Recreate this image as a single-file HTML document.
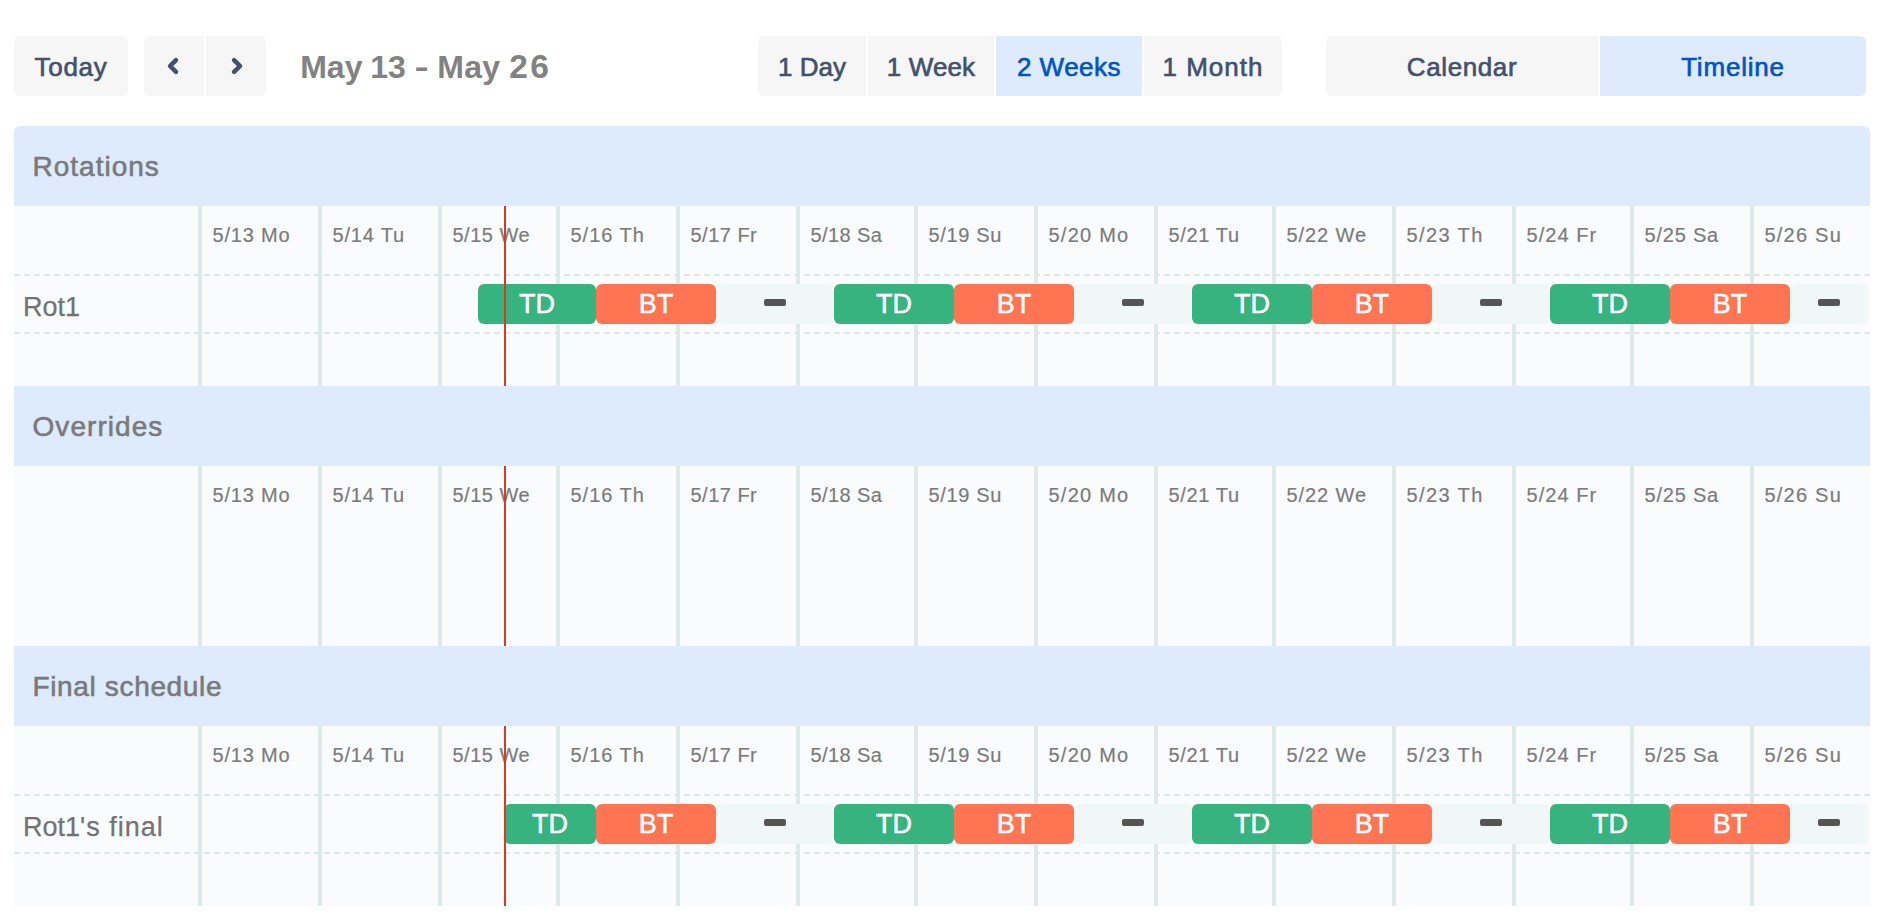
<!DOCTYPE html><html><head><meta charset="utf-8"><title>Schedule</title><style>
html,body{margin:0;padding:0;background:#fff;}
body{width:1892px;height:914px;overflow:hidden;position:relative;font-family:"Liberation Sans",sans-serif;}
.a{position:absolute;}
.btn{position:absolute;top:36px;height:60px;background:#f6f6f6;color:#42526e;font-size:26px;-webkit-text-stroke:0.65px #42526e;line-height:62px;text-align:center;white-space:nowrap;}
.btn.sel{background:#deebff;color:#0052cc;-webkit-text-stroke:0.65px #0052cc;}
.titlewrap{position:absolute;left:0;top:0;width:0;height:0;}
.title{display:block;position:absolute;left:300px;top:36.5px;height:60px;line-height:61px;font-size:32px;font-weight:bold;color:#828282;white-space:nowrap;}
.band{position:absolute;left:14px;width:1856px;height:80px;background:#deebff;}
.band span{position:absolute;left:18.5px;top:0;line-height:82px;font-size:28px;-webkit-text-stroke:0.6px #7a7a7a;color:#7a7a7a;white-space:nowrap;}
.grid{position:absolute;left:14px;width:1856px;background:#fafbfc;}
.vl{position:absolute;width:4px;background:#dfe9e9;}
.hl{position:absolute;left:14px;width:1856px;height:2px;background:repeating-linear-gradient(to right,#dce9e8 0,#dce9e8 6px,rgba(220,233,232,0) 6px,rgba(220,233,232,0) 10px);}
.dl{position:absolute;font-size:20px;-webkit-text-stroke:0.2px #7b7b7b;letter-spacing:0.9px;color:#7b7b7b;white-space:nowrap;line-height:24px;}
.rl{position:absolute;left:23px;font-size:27px;-webkit-text-stroke:0.25px #737373;color:#737373;white-space:nowrap;line-height:40px;}
.bar{position:absolute;height:40px;border-radius:6px;color:#fff;-webkit-text-stroke:0.55px #fff;font-size:27px;line-height:40px;text-align:center;white-space:nowrap;}
.td{background:#36b37e;}
.bt{background:#ff7452;}
.no{background:#f1f6f6;color:#555;}
.dash{display:block;position:absolute;left:50%;margin-left:-11.25px;top:15px;width:22.5px;height:7px;border-radius:2px;overflow:hidden;color:#555;-webkit-text-stroke:0;}
.dash b{display:block;position:absolute;left:-8.55px;top:-66.1px;font-weight:normal;font-size:120px;line-height:120px;}
.now{position:absolute;width:2px;background:#d73b22;}
</style></head><body>
<div class="btn" style="left:14px;width:114px;border-radius:6px;letter-spacing:0.7px;">Today</div>
<div class="btn" style="left:144px;width:60px;border-radius:6px 0 0 6px;"><svg style="position:absolute;left:0;top:0;display:block" width="60" height="60" viewBox="0 0 60 60"><path d="M32 24.05 L26.05 30 L32 35.95" fill="none" stroke="#42526e" stroke-width="4.5" stroke-linecap="round" stroke-linejoin="round"/></svg></div>
<div class="btn" style="left:206px;width:60px;border-radius:0 6px 6px 0;"><svg style="position:absolute;left:0;top:0;display:block" width="60" height="60" viewBox="0 0 60 60"><path d="M28.1 24.05 L34.05 30 L28.1 35.95" fill="none" stroke="#42526e" stroke-width="4.5" stroke-linecap="round" stroke-linejoin="round"/></svg></div>
<div class="titlewrap"><span class="title" style="left:300.2px;word-spacing:-1.2px;">May 13</span> <span class="title" style="left:414.3px;top:34.9px;font-size:44px;font-weight:normal;">-</span> <span class="title" style="left:437.2px;top:36px;letter-spacing:0.3px;word-spacing:-0.2px;">May <span style="letter-spacing:2.2px;font-size:33.5px">26</span></span></div>
<div class="btn" style="left:758px;width:108px;border-radius:6px 0 0 6px;letter-spacing:0px;">1 Day</div>
<div class="btn" style="left:868px;width:126px;letter-spacing:0.1px;">1 Week</div>
<div class="btn sel" style="left:996px;width:146px;letter-spacing:0.5px;">2 Weeks</div>
<div class="btn" style="left:1144px;width:138px;border-radius:0 6px 6px 0;letter-spacing:1.0px;">1 Month</div>
<div class="btn" style="left:1326px;width:272px;border-radius:6px 0 0 6px;letter-spacing:0.6px;">Calendar</div>
<div class="btn sel" style="left:1600px;width:266px;border-radius:0 6px 6px 0;letter-spacing:0.8px;">Timeline</div>
<div class="band" style="top:126px;border-radius:6px 6px 0 0;"><span style="letter-spacing:1.0px">Rotations</span></div>
<div class="grid" style="top:206px;height:180px;"></div>
<div class="vl" style="left:198.00px;top:206px;height:180px;"></div>
<div class="dl" style="left:212.50px;top:223px;letter-spacing:0.82px;">5/13 Mo</div>
<div class="vl" style="left:318.00px;top:206px;height:180px;"></div>
<div class="dl" style="left:332.50px;top:223px;letter-spacing:0.82px;">5/14 Tu</div>
<div class="vl" style="left:438.00px;top:206px;height:180px;"></div>
<div class="dl" style="left:452.50px;top:223px;letter-spacing:0.48px;">5/15 We</div>
<div class="vl" style="left:556.00px;top:206px;height:180px;"></div>
<div class="dl" style="left:570.50px;top:223px;letter-spacing:0.98px;">5/16 Th</div>
<div class="vl" style="left:676.00px;top:206px;height:180px;"></div>
<div class="dl" style="left:690.50px;top:223px;letter-spacing:0.48px;">5/17 Fr</div>
<div class="vl" style="left:796.00px;top:206px;height:180px;"></div>
<div class="dl" style="left:810.50px;top:223px;letter-spacing:0.40px;">5/18 Sa</div>
<div class="vl" style="left:914.00px;top:206px;height:180px;"></div>
<div class="dl" style="left:928.50px;top:223px;letter-spacing:0.65px;">5/19 Su</div>
<div class="vl" style="left:1034.00px;top:206px;height:180px;"></div>
<div class="dl" style="left:1048.50px;top:223px;letter-spacing:1.23px;">5/20 Mo</div>
<div class="vl" style="left:1154.00px;top:206px;height:180px;"></div>
<div class="dl" style="left:1168.50px;top:223px;letter-spacing:0.65px;">5/21 Tu</div>
<div class="vl" style="left:1272.00px;top:206px;height:180px;"></div>
<div class="dl" style="left:1286.50px;top:223px;letter-spacing:0.90px;">5/22 We</div>
<div class="vl" style="left:1392.00px;top:206px;height:180px;"></div>
<div class="dl" style="left:1406.50px;top:223px;letter-spacing:1.40px;">5/23 Th</div>
<div class="vl" style="left:1512.00px;top:206px;height:180px;"></div>
<div class="dl" style="left:1526.50px;top:223px;letter-spacing:1.07px;">5/24 Fr</div>
<div class="vl" style="left:1630.00px;top:206px;height:180px;"></div>
<div class="dl" style="left:1644.50px;top:223px;letter-spacing:0.78px;">5/25 Sa</div>
<div class="vl" style="left:1750.00px;top:206px;height:180px;"></div>
<div class="dl" style="left:1764.50px;top:223px;letter-spacing:1.22px;">5/26 Su</div>
<div class="hl" style="top:274px;"></div>
<div class="hl" style="top:332px;"></div>
<div class="rl" style="top:286.5px;">Rot1</div>
<div class="bar td" style="left:478.0px;top:284px;width:118.0px;">TD</div>
<div class="bar bt" style="left:596.0px;top:284px;width:120.0px;">BT</div>
<div class="bar no" style="left:716.0px;top:284px;width:118.0px;"><span class="dash"><b>-</b></span></div>
<div class="bar td" style="left:834.0px;top:284px;width:120.0px;">TD</div>
<div class="bar bt" style="left:954.0px;top:284px;width:120.0px;">BT</div>
<div class="bar no" style="left:1074.0px;top:284px;width:118.0px;"><span class="dash"><b>-</b></span></div>
<div class="bar td" style="left:1192.0px;top:284px;width:120.0px;">TD</div>
<div class="bar bt" style="left:1312.0px;top:284px;width:120.0px;">BT</div>
<div class="bar no" style="left:1432.0px;top:284px;width:118.0px;"><span class="dash"><b>-</b></span></div>
<div class="bar td" style="left:1550.0px;top:284px;width:120.0px;">TD</div>
<div class="bar bt" style="left:1670.0px;top:284px;width:120.0px;">BT</div>
<div class="bar no" style="left:1790.0px;top:284px;width:78.0px;"><span class="dash"><b>-</b></span></div>
<div class="band" style="top:386px;"><span style="letter-spacing:1.05px">Overrides</span></div>
<div class="grid" style="top:466px;height:180px;"></div>
<div class="vl" style="left:198.00px;top:466px;height:180px;"></div>
<div class="dl" style="left:212.50px;top:483px;letter-spacing:0.82px;">5/13 Mo</div>
<div class="vl" style="left:318.00px;top:466px;height:180px;"></div>
<div class="dl" style="left:332.50px;top:483px;letter-spacing:0.82px;">5/14 Tu</div>
<div class="vl" style="left:438.00px;top:466px;height:180px;"></div>
<div class="dl" style="left:452.50px;top:483px;letter-spacing:0.48px;">5/15 We</div>
<div class="vl" style="left:556.00px;top:466px;height:180px;"></div>
<div class="dl" style="left:570.50px;top:483px;letter-spacing:0.98px;">5/16 Th</div>
<div class="vl" style="left:676.00px;top:466px;height:180px;"></div>
<div class="dl" style="left:690.50px;top:483px;letter-spacing:0.48px;">5/17 Fr</div>
<div class="vl" style="left:796.00px;top:466px;height:180px;"></div>
<div class="dl" style="left:810.50px;top:483px;letter-spacing:0.40px;">5/18 Sa</div>
<div class="vl" style="left:914.00px;top:466px;height:180px;"></div>
<div class="dl" style="left:928.50px;top:483px;letter-spacing:0.65px;">5/19 Su</div>
<div class="vl" style="left:1034.00px;top:466px;height:180px;"></div>
<div class="dl" style="left:1048.50px;top:483px;letter-spacing:1.23px;">5/20 Mo</div>
<div class="vl" style="left:1154.00px;top:466px;height:180px;"></div>
<div class="dl" style="left:1168.50px;top:483px;letter-spacing:0.65px;">5/21 Tu</div>
<div class="vl" style="left:1272.00px;top:466px;height:180px;"></div>
<div class="dl" style="left:1286.50px;top:483px;letter-spacing:0.90px;">5/22 We</div>
<div class="vl" style="left:1392.00px;top:466px;height:180px;"></div>
<div class="dl" style="left:1406.50px;top:483px;letter-spacing:1.40px;">5/23 Th</div>
<div class="vl" style="left:1512.00px;top:466px;height:180px;"></div>
<div class="dl" style="left:1526.50px;top:483px;letter-spacing:1.07px;">5/24 Fr</div>
<div class="vl" style="left:1630.00px;top:466px;height:180px;"></div>
<div class="dl" style="left:1644.50px;top:483px;letter-spacing:0.78px;">5/25 Sa</div>
<div class="vl" style="left:1750.00px;top:466px;height:180px;"></div>
<div class="dl" style="left:1764.50px;top:483px;letter-spacing:1.22px;">5/26 Su</div>
<div class="band" style="top:646px;"><span style="letter-spacing:0.65px">Final schedule</span></div>
<div class="grid" style="top:726px;height:180px;"></div>
<div class="vl" style="left:198.00px;top:726px;height:180px;"></div>
<div class="dl" style="left:212.50px;top:743px;letter-spacing:0.82px;">5/13 Mo</div>
<div class="vl" style="left:318.00px;top:726px;height:180px;"></div>
<div class="dl" style="left:332.50px;top:743px;letter-spacing:0.82px;">5/14 Tu</div>
<div class="vl" style="left:438.00px;top:726px;height:180px;"></div>
<div class="dl" style="left:452.50px;top:743px;letter-spacing:0.48px;">5/15 We</div>
<div class="vl" style="left:556.00px;top:726px;height:180px;"></div>
<div class="dl" style="left:570.50px;top:743px;letter-spacing:0.98px;">5/16 Th</div>
<div class="vl" style="left:676.00px;top:726px;height:180px;"></div>
<div class="dl" style="left:690.50px;top:743px;letter-spacing:0.48px;">5/17 Fr</div>
<div class="vl" style="left:796.00px;top:726px;height:180px;"></div>
<div class="dl" style="left:810.50px;top:743px;letter-spacing:0.40px;">5/18 Sa</div>
<div class="vl" style="left:914.00px;top:726px;height:180px;"></div>
<div class="dl" style="left:928.50px;top:743px;letter-spacing:0.65px;">5/19 Su</div>
<div class="vl" style="left:1034.00px;top:726px;height:180px;"></div>
<div class="dl" style="left:1048.50px;top:743px;letter-spacing:1.23px;">5/20 Mo</div>
<div class="vl" style="left:1154.00px;top:726px;height:180px;"></div>
<div class="dl" style="left:1168.50px;top:743px;letter-spacing:0.65px;">5/21 Tu</div>
<div class="vl" style="left:1272.00px;top:726px;height:180px;"></div>
<div class="dl" style="left:1286.50px;top:743px;letter-spacing:0.90px;">5/22 We</div>
<div class="vl" style="left:1392.00px;top:726px;height:180px;"></div>
<div class="dl" style="left:1406.50px;top:743px;letter-spacing:1.40px;">5/23 Th</div>
<div class="vl" style="left:1512.00px;top:726px;height:180px;"></div>
<div class="dl" style="left:1526.50px;top:743px;letter-spacing:1.07px;">5/24 Fr</div>
<div class="vl" style="left:1630.00px;top:726px;height:180px;"></div>
<div class="dl" style="left:1644.50px;top:743px;letter-spacing:0.78px;">5/25 Sa</div>
<div class="vl" style="left:1750.00px;top:726px;height:180px;"></div>
<div class="dl" style="left:1764.50px;top:743px;letter-spacing:1.22px;">5/26 Su</div>
<div class="hl" style="top:794px;"></div>
<div class="hl" style="top:852px;"></div>
<div class="rl" style="top:806.5px;">Rot1<span style="letter-spacing:1px">'s final</span></div>
<div class="bar td" style="left:504.0px;top:804px;width:92.0px;">TD</div>
<div class="bar bt" style="left:596.0px;top:804px;width:120.0px;">BT</div>
<div class="bar no" style="left:716.0px;top:804px;width:118.0px;"><span class="dash"><b>-</b></span></div>
<div class="bar td" style="left:834.0px;top:804px;width:120.0px;">TD</div>
<div class="bar bt" style="left:954.0px;top:804px;width:120.0px;">BT</div>
<div class="bar no" style="left:1074.0px;top:804px;width:118.0px;"><span class="dash"><b>-</b></span></div>
<div class="bar td" style="left:1192.0px;top:804px;width:120.0px;">TD</div>
<div class="bar bt" style="left:1312.0px;top:804px;width:120.0px;">BT</div>
<div class="bar no" style="left:1432.0px;top:804px;width:118.0px;"><span class="dash"><b>-</b></span></div>
<div class="bar td" style="left:1550.0px;top:804px;width:120.0px;">TD</div>
<div class="bar bt" style="left:1670.0px;top:804px;width:120.0px;">BT</div>
<div class="bar no" style="left:1790.0px;top:804px;width:78.0px;"><span class="dash"><b>-</b></span></div>
<div class="now" style="left:504px;top:206px;height:180px;"></div>
<div class="now" style="left:504px;top:466px;height:180px;"></div>
<div class="now" style="left:504px;top:726px;height:180px;"></div>
</body></html>
